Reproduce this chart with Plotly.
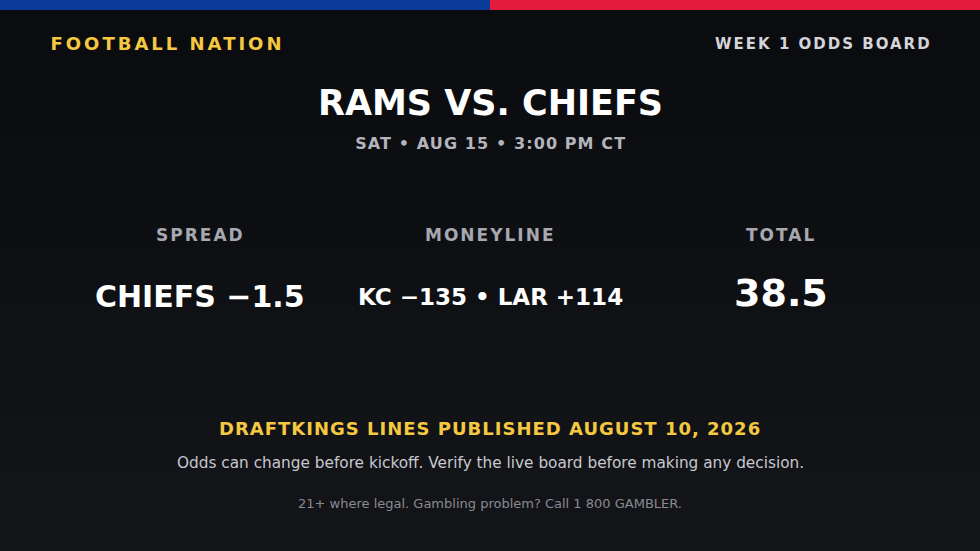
import json
import plotly.graph_objects as go

W, H = 980, 551

brand = "FOOTBALL NATION"
board = "WEEK 1 ODDS BOARD"
matchup = "RAMS VS. CHIEFS"
kickoff = "SAT • AUG 15 • 3:00 PM CT"
market_labels = ["SPREAD", "MONEYLINE", "TOTAL"]
market_values = ["CHIEFS −1.5", "KC −135 • LAR +114", "38.5"]
source_line = "DRAFTKINGS LINES PUBLISHED AUGUST 10, 2026"
disclaimer = "Odds can change before kickoff. Verify the live board before making any decision."
legal = "21+ where legal. Gambling problem? Call 1 800 GAMBLER."

FONT = "DejaVu Sans"
YELLOW = "#f5c842"

fig = go.Figure()
spacing = {}  # text -> letter spacing in px, applied after render


def add_text(text, x, y, size, color, bold=True, ls=0):
    # always centred: letter spacing is added after layout and grows around the centre
    fig.add_annotation(
        text=f"<b>{text}</b>" if bold else text,
        x=x, y=y, xref="x", yref="y",
        xanchor="center", yanchor="middle",
        showarrow=False,
        font=dict(family=FONT, size=size, color=color),
    )
    if ls:
        spacing[text] = ls


# background: rough gradient in horizontal bands
steps = 20
for i in range(steps):
    t = i / (steps - 1)
    r = int(11 + t * 9)
    g = int(12 + t * 9)
    b = int(15 + t * 10)
    fig.add_shape(type="rect", x0=0, x1=W, y0=i * H / steps, y1=(i + 1) * H / steps + 1,
                  fillcolor=f"rgb({r},{g},{b})", line_width=0, layer="below")

# top stripe
fig.add_shape(type="rect", x0=0, x1=W / 2, y0=0, y1=10, fillcolor="#0a3a9a", line_width=0)
fig.add_shape(type="rect", x0=W / 2, x1=W, y0=0, y1=10, fillcolor="#e31c3d", line_width=0)

add_text(brand, 167, 43, 18, YELLOW, ls=3)
add_text(board, 823, 44, 15, "#d4d4da", ls=2)
add_text(matchup, 490, 103, 35, "#ffffff")
add_text(kickoff, 490, 143, 16, "#b4b4bc", ls=1.1)

cols = [200, 490, 781]
value_sizes = [30, 23, 38]
value_y = [296, 297, 293]
for x, lab, val, vs, vy in zip(cols, market_labels, market_values, value_sizes, value_y):
    add_text(lab, x, 235, 17, "#a8a8b0", ls=2)
    add_text(val, x, vy, vs, "#ffffff")

add_text(source_line, 490, 428, 18, YELLOW, ls=1)
add_text(disclaimer, 490, 463, 15.3, "#c8c8ce", bold=False)
add_text(legal, 490, 503, 13, "#8a8a92", bold=False)

fig.update_xaxes(range=[0, W], visible=False, fixedrange=True)
fig.update_yaxes(range=[H, 0], visible=False, fixedrange=True)
fig.update_layout(
    width=W, height=H,
    margin=dict(l=0, r=0, t=0, b=0),
    paper_bgcolor="#111216",
    plot_bgcolor="#111216",
    showlegend=False,
)

post = """
document.body.style.margin = '0';
document.body.style.background = '#111216';
var sp = %s;
document.querySelectorAll('text.annotation-text').forEach(function (t) {
  var v = sp[t.textContent];
  if (v) { t.style.letterSpacing = v + 'px'; }
});
""" % json.dumps(spacing, ensure_ascii=False)

fig.write_html("out.html", post_script=post, config={"displayModeBar": False})
